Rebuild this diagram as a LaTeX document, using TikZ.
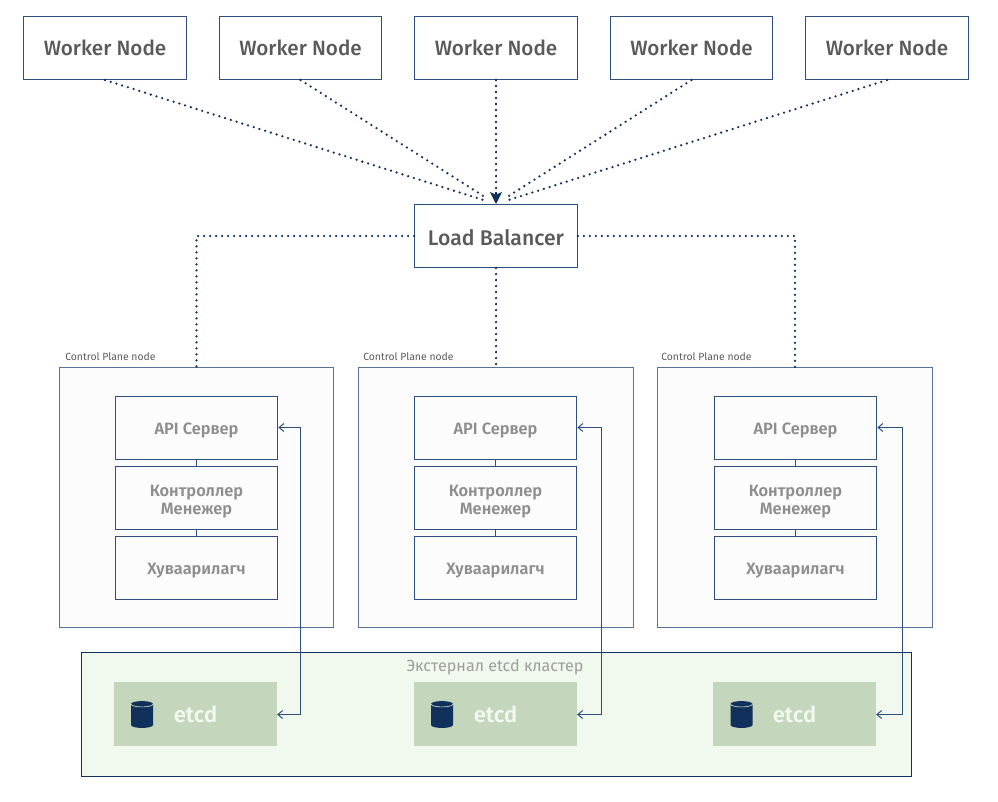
\documentclass[tikz,border=0pt]{standalone}
\usepackage{fontspec}
\setmainfont{Fira Sans}[UprightFont=*-Medium,BoldFont=*-SemiBold]
\newfontfamily\lightfont{Fira Sans}
\usetikzlibrary{arrows.meta,positioning}
\definecolor{navy}{HTML}{12305C}
\definecolor{linec}{HTML}{2F4F7F}
\definecolor{txt}{HTML}{5A5A5A}
\definecolor{soft}{HTML}{8E8E8E}
\definecolor{paneF}{HTML}{FCFCFC}
\definecolor{extF}{HTML}{F1F8EE}
\definecolor{etcdF}{HTML}{C4D6BB}
\newcommand{\lft}[1]{\rule{0pt}{#1pt}}
\tikzset{
  x=0.75pt,y=-0.75pt,
  box/.style={draw=linec,line width=0.75pt,fill=white,minimum width=122pt,minimum height=47.25pt,inner sep=0pt,align=center,text=txt,font=\fontsize{15.5}{18}\selectfont},
  inbox/.style={draw=linec,line width=0.75pt,fill=paneF,minimum width=122pt,minimum height=47.25pt,inner sep=0pt,align=center,text=soft,font=\bfseries\fontsize{12.3}{13.6}\selectfont},
  pane/.style={draw=linec!80,line width=0.8pt,fill=paneF,minimum width=206pt,minimum height=194.5pt,inner sep=0pt},
  extbox/.style={draw=navy,line width=0.75pt,fill=extF,minimum width=622.5pt,minimum height=93pt,inner sep=0pt},
  etcdbox/.style={fill=etcdF,minimum width=122pt,minimum height=48pt,inner sep=0pt,text=extF,font=\bfseries\fontsize{16.5}{18}\selectfont},
  dots/.style={navy,line width=1.9pt,line cap=round,dash pattern=on 0pt off 4.5pt},
  wire/.style={linec,line width=0.75pt},
  small/.style={text=txt,font=\lightfont\fontsize{7.8}{9}\selectfont,inner sep=0pt,anchor=west},
}
\newcommand{\cyl}[2]{%
  \fill[navy] (#1-11,#2-24) -- (#1-11,#2-3) arc[x radius=8.25pt,y radius=2.2pt,start angle=180,end angle=360] -- (#1+11,#2-24) arc[x radius=8.25pt,y radius=2.2pt,start angle=0,end angle=180] -- cycle;
  \draw[etcdF,line width=0.5pt] (#1-11,#2-24) arc[x radius=8.25pt,y radius=2.2pt,start angle=180,end angle=360];
}
\begin{document}
\begin{tikzpicture}
\useasboundingbox (0,0) rectangle (998,801);
% worker nodes
\node[box] (wn1) at (105,48) {\lft{12}Worker Node};
\node[box] (wn2) at (300.5,48) {\lft{12}Worker Node};
\node[box] (wn3) at (496,48) {\lft{12}Worker Node};
\node[box] (wn4) at (691.5,48) {\lft{12}Worker Node};
\node[box] (wn5) at (887,48) {\lft{12}Worker Node};
\node[box,font=\fontsize{15.9}{18}\selectfont] (lb) at (496,236) {\lft{14}Load Balancer};
% panes
\node[pane] (cp1) at (196.5,497.5) {};
\node[pane] (cp2) at (496,497.5) {};
\node[pane] (cp3) at (795,497.5) {};
\node[small] (lab1) at (65,356.5) {Control Plane node};
\node[small] (lab2) at (363,356.5) {Control Plane node};
\node[small] (lab3) at (661,356.5) {Control Plane node};
% inner boxes
\foreach \i/\xx in {1/196.5,2/495.5,3/795.5}{
  \node[inbox] (api\i) at (\xx,428) {\lft{12.7}API Сервер};
  \node[inbox] (cm\i) at (\xx,498) {\lft{13.5}Контроллер\\Менежер};
  \node[inbox] (sch\i) at (\xx,568) {\lft{12.3}Хуваарилагч};
  \draw[wire] (api\i) -- (cm\i);
  \draw[wire] (cm\i) -- (sch\i);
}
% external cluster
\node[extbox] (ext) at (496.5,714.5) {};
\node[text=soft!85!extF,font=\lightfont\fontsize{12.1}{14}\selectfont,inner sep=0pt] (extlab) at (495,667.5) {Экстернал etcd кластер};
\node[etcdbox] (etcd1) at (195.5,714) {\lft{13}etcd};
\node[etcdbox] (etcd2) at (495.5,714) {\lft{13}etcd};
\node[etcdbox] (etcd3) at (794.5,714) {\lft{13}etcd};
\cyl{142}{728}
\cyl{442}{728}
\cyl{741.5}{728}
% dotted links
\foreach \w in {wn1,wn2,wn4,wn5}
  \draw[dots,shorten >=10pt] (\w.south) -- (lb.north);
\draw[dots,shorten >=7pt] (wn3.south) -- (lb.north);
\draw[navy,line width=0.8pt,-{Stealth[length=9pt,width=9pt,inset=2pt]}] ([yshift=9pt]lb.north) -- (lb.north);
\draw[dots] (lb.west) -| (cp1.north);
\draw[dots] (lb.south) -- (cp2.north);
\draw[dots] (lb.east) -| (cp3.north);
% api-etcd
\coordinate (b1t) at (300.5,427.5); \coordinate (b1b) at (300.5,714.5);
\coordinate (b2t) at (601.5,427.5); \coordinate (b2b) at (601.5,714.5);
\coordinate (b3t) at (902.5,427.5); \coordinate (b3b) at (902.5,714.5);
\foreach \i in {1,2,3}
  \draw[wire,{Straight Barb[length=3.6pt,width=6pt]}-{Straight Barb[length=3.6pt,width=6pt]}] (b\i t -| api\i.east) -- (b\i t) -- (b\i b) -- (b\i b -| etcd\i.east);
\end{tikzpicture}
\end{document}
